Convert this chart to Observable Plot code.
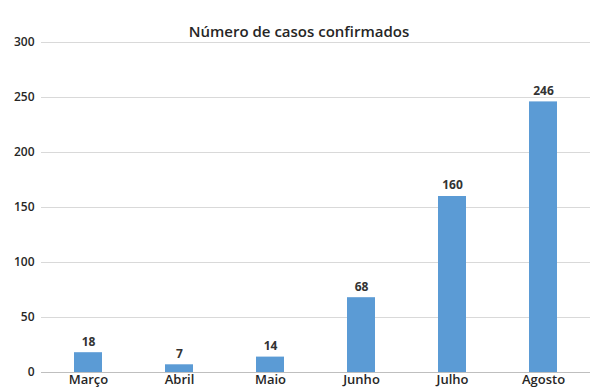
<!DOCTYPE html>
<html>
<head>
<meta charset="utf-8">
<script src="https://cdn.jsdelivr.net/npm/d3@7"></script>
<script src="https://cdn.jsdelivr.net/npm/@observablehq/plot@0.6"></script>
<style>
  html, body { margin: 0; padding: 0; background: #fff; }
  #chart svg { display: block; }
</style>
</head>
<body>
<div id="chart"></div>
<script>
const months = ["Março", "Abril", "Maio", "Junho", "Julho", "Agosto"];
const cases = [18, 7, 14, 68, 160, 246];
const yTicks = [0, 50, 100, 150, 200, 250, 300];
const title = "Número de casos confirmados";

const data = months.map((m, i) => ({month: m, value: cases[i]}));

const chart = Plot.plot({
  width: 595,
  height: 389,
  marginTop: 42,
  marginBottom: 17,
  marginLeft: 41,
  marginRight: 5,
  style: {fontFamily: "'Open Sans', sans-serif", fontSize: "12px", color: "#333", background: "#fff"},
  x: {domain: months, paddingInner: 0.69, paddingOuter: 0.345, label: null, tickSize: 0, tickPadding: 2},
  y: {domain: [0, 300], ticks: yTicks, label: null, tickSize: 0, tickPadding: 5},
  marks: [
    Plot.gridY(yTicks, {stroke: "#d9d9d9", strokeOpacity: 1}),
    Plot.ruleY([0], {stroke: "#bfbfbf"}),
    Plot.barY(data, {x: "month", y: "value", fill: "#5b9bd5"}),
    Plot.text(data, {x: "month", y: "value", text: d => String(d.value), dy: -11, fontWeight: "bold", fontSize: 12, fill: "#333"}),
    Plot.axisX({tickSize: 0, tickPadding: 2, fontWeight: "600", fontSize: 13, fill: "#262626"}),
    Plot.axisY(yTicks, {tickSize: 0, tickPadding: 7, fontWeight: "600", fontSize: 12, fill: "#262626"}),
    Plot.text([title], {frameAnchor: "top", dy: -16, dx: -17, fontSize: 15, fontWeight: "600", fill: "#262626"})
  ]
});
document.getElementById("chart").appendChild(chart);
</script>
</body>
</html>
